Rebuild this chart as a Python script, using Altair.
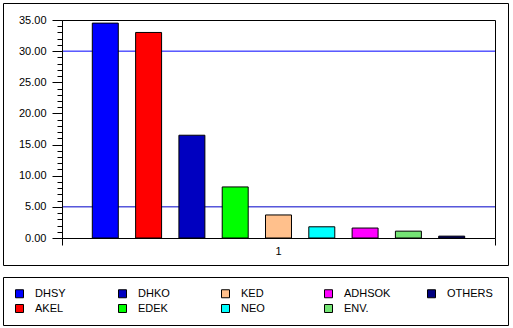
import altair as alt
import pandas as pd

FONT = "Liberation Sans"

# ---- data ----
parties = ["DHSY", "AKEL", "DHKO", "EDEK", "KED", "NEO", "ADHSOK", "ENV.", "OTHERS"]
values = [34.5, 33.0, 16.5, 8.2, 3.7, 1.8, 1.6, 1.1, 0.3]
colors = ["#0000ff", "#ff0000", "#0000c0", "#00ff00", "#ffc08c", "#00ffff", "#ff00ff", "#74e474", "#000080"]
legend_order = ["DHSY", "DHKO", "KED", "ADHSOK", "OTHERS", "AKEL", "EDEK", "NEO", "ENV."]
group_label = "1"
ref_values = [30, 5]
ref_colors = ["#0000ff", "#0000c8"]
major_ticks = [0, 5, 10, 15, 20, 25, 30, 35]
minor_ticks = list(range(0, 36))

color_map = dict(zip(parties, colors))
df = pd.DataFrame({"party": parties, "value": values, "grp": [group_label] * len(parties)})
ref_df = pd.DataFrame({"v": ref_values, "c": ref_colors})
one = pd.DataFrame({"k": [0]})

W, H = 433, 218

outer = alt.Chart(one).mark_rect(fill="transparent", stroke="black", strokeWidth=1).encode(
    x=alt.value(-58.5), x2=alt.value(446.5), y=alt.value(-16.5), y2=alt.value(245.5)
)
legend_box = alt.Chart(one).mark_rect(fill="transparent", stroke="black", strokeWidth=1).encode(
    x=alt.value(-58.5), x2=alt.value(446.5), y=alt.value(257.5), y2=alt.value(305.5)
)
plot_box = alt.Chart(one).mark_rect(fill="transparent", stroke="black", strokeWidth=1).encode(
    x=alt.value(0.5), x2=alt.value(433.5), y=alt.value(0.5), y2=alt.value(218.5)
)
ext_left = alt.Chart(one).mark_rule(color="black", strokeWidth=1).encode(
    x=alt.value(0.5), y=alt.value(218.5), y2=alt.value(225.5)
)
ext_right = alt.Chart(one).mark_rule(color="black", strokeWidth=1).encode(
    x=alt.value(433.5), y=alt.value(218.5), y2=alt.value(225.5)
)

rules = alt.Chart(ref_df).mark_rule(strokeWidth=1).encode(
    y=alt.Y("v:Q", scale=alt.Scale(domain=[0, 35], nice=False),
            axis=alt.Axis(orient="left", values=minor_ticks, labels=False, tickSize=5,
                          domain=False, grid=False, title=None, tickColor="black")),
    stroke=alt.Stroke("c:N", scale=None, legend=None),
)

bars = alt.Chart(df).mark_bar(stroke="black", strokeWidth=1, opacity=1).encode(
    x=alt.X("grp:N", title=None,
            scale=alt.Scale(paddingInner=0, paddingOuter=0),
            axis=alt.Axis(labelAngle=0, domain=False, ticks=False, labelFontSize=11,
                          labelPadding=7, labelColor="black", labelFont=FONT)),
    xOffset=alt.XOffset("party:N", sort=parties,
                        scale=alt.Scale(paddingInner=0.4, paddingOuter=0.7)),
    y=alt.Y("value:Q", scale=alt.Scale(domain=[0, 35], nice=False),
            axis=alt.Axis(orient="left", values=major_ticks, format=".2f", title=None,
                          tickSize=10, domain=False, grid=False, labelFontSize=11,
                          labelPadding=6, tickColor="black", labelColor="black",
                          labelFont=FONT)),
    color=alt.Color("party:N",
                    scale=alt.Scale(domain=legend_order, range=[color_map[p] for p in legend_order]),
                    legend=alt.Legend(title=None, orient="none", legendX=-48, legendY=268,
                                      columns=5, direction="horizontal", symbolType="square",
                                      symbolSize=64, symbolStrokeColor="black",
                                      symbolStrokeWidth=1, symbolOpacity=1,
                                      labelFontSize=11, labelFont=FONT, labelColor="black",
                                      labelOffset=10, columnPadding=34, rowPadding=2,
                                      gridAlign="all", padding=0)),
)

chart = alt.layer(outer, legend_box, rules, bars, plot_box, ext_left, ext_right).resolve_axis(
    y="independent"
).properties(
    width=W, height=H,
    padding={"left": 62, "top": 20, "right": 18, "bottom": 90},
    autosize=alt.AutoSizeParams(type="none"),
    background="white",
).configure_view(stroke=None).configure(font=FONT)

chart.save("out.html", embed_options={"renderer": "svg", "actions": False})
